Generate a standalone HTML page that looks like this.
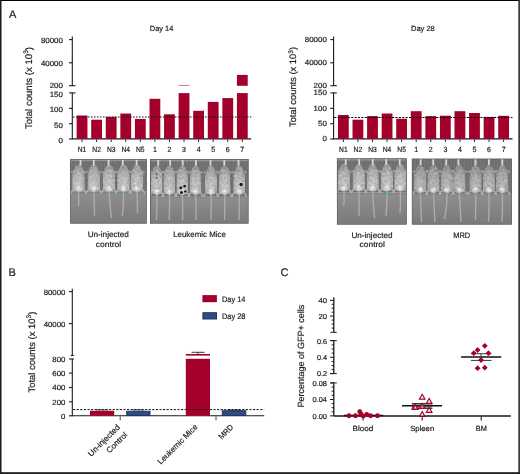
<!DOCTYPE html><html><head><meta charset="utf-8"><style>html,body{margin:0;padding:0;background:#fff;}svg{display:block;font-family:"Liberation Sans",sans-serif;will-change:transform;text-rendering:geometricPrecision;}text{fill:#1e1e1e;stroke:#1e1e1e;stroke-width:0.2px;}</style></head><body>
<svg width="520" height="474" viewBox="0 0 520 474">
<defs>
<linearGradient id="gbg" x1="0" y1="0" x2="0" y2="1"><stop offset="0" stop-color="#6e6e6e"/><stop offset="0.50" stop-color="#6a6a6a"/><stop offset="0.56" stop-color="#929292"/><stop offset="1" stop-color="#858585"/></linearGradient>
<pattern id="stripes" width="3.3" height="10" patternUnits="userSpaceOnUse"><rect width="3.3" height="10" fill="#7b7b7b"/><rect x="0" width="1.2" height="10" fill="#6e6e6e"/></pattern>
<linearGradient id="glow" x1="0" y1="0" x2="0" y2="1"><stop offset="0" stop-color="#808080"/><stop offset="0.1" stop-color="#8d8d8d"/><stop offset="1" stop-color="#7a7a7a"/></linearGradient>
<linearGradient id="gup" x1="0" y1="0" x2="0" y2="1"><stop offset="0" stop-color="#666"/><stop offset="1" stop-color="#707070"/></linearGradient>
<radialGradient id="ghind"><stop offset="0" stop-color="#ececec" stop-opacity="1"/><stop offset="0.5" stop-color="#e0e0e0" stop-opacity="0.8"/><stop offset="1" stop-color="#d0d0d0" stop-opacity="0"/></radialGradient>
<radialGradient id="gmouse2" cx="0.5" cy="0.75" r="0.7"><stop offset="0" stop-color="#b8b8b8"/><stop offset="0.6" stop-color="#a6a6a6"/><stop offset="1" stop-color="#8e8e8e"/></radialGradient>
<radialGradient id="gmouse" cx="0.5" cy="0.75" r="0.7"><stop offset="0" stop-color="#c6c6c6"/><stop offset="0.6" stop-color="#b2b2b2"/><stop offset="1" stop-color="#989898"/></radialGradient>
<filter id="speck1" x="-0.05" y="-0.05" width="1.1" height="1.1" color-interpolation-filters="sRGB"><feTurbulence type="fractalNoise" baseFrequency="0.4" numOctaves="2" seed="5" result="n"/><feColorMatrix in="n" type="matrix" values="0 0 0 0 0  1 0 0 0 0  0 0 0 0 0  0 0 0 0 1" result="g"/><feColorMatrix in="g" type="matrix" values="0 1 0 0 0  0 1 0 0 0  0 1 0 0 0  0 0 0 0 1" result="gg"/><feComposite in="SourceGraphic" in2="gg" operator="arithmetic" k1="0" k2="1" k3="0.24" k4="-0.12" result="mix"/><feComposite in="mix" in2="SourceAlpha" operator="in" result="m2"/><feGaussianBlur in="m2" stdDeviation="0.45"/></filter>
</defs>
<rect x="0.00" y="0.00" width="520.00" height="474.00" fill="#fff" />
<text x="9.00" y="17.80" font-size="11" text-anchor="start" >A</text>
<text x="8.60" y="276.20" font-size="11" text-anchor="start" >B</text>
<text x="280.60" y="276.40" font-size="11" text-anchor="start" >C</text>
<text x="0.00" y="0.00" font-size="9.6" text-anchor="middle" transform="translate(31.6,88) rotate(-90)">Total counts (x 10<tspan dy="-3.4" font-size="6.6">3</tspan><tspan dy="3.4">)</tspan></text>
<text x="0.00" y="0.00" font-size="9.35" text-anchor="middle" transform="translate(296.0,87.0) rotate(-90)">Total counts (x 10<tspan dy="-3.4" font-size="6.6">3</tspan><tspan dy="3.4">)</tspan></text>
<line x1="72.30" y1="36.60" x2="72.30" y2="85.70" stroke="#1a1a1a" stroke-width="1.1" />
<line x1="72.30" y1="92.70" x2="72.30" y2="139.30" stroke="#1a1a1a" stroke-width="1.1" />
<line x1="69.10" y1="85.70" x2="75.50" y2="85.70" stroke="#1a1a1a" stroke-width="1.1" />
<line x1="69.10" y1="92.90" x2="75.50" y2="92.90" stroke="#1a1a1a" stroke-width="1.1" />
<line x1="69.00" y1="39.60" x2="72.30" y2="39.60" stroke="#1a1a1a" stroke-width="1.1" />
<line x1="69.00" y1="62.80" x2="72.30" y2="62.80" stroke="#1a1a1a" stroke-width="1.1" />
<line x1="69.00" y1="108.40" x2="72.30" y2="108.40" stroke="#1a1a1a" stroke-width="1.1" />
<line x1="69.00" y1="123.70" x2="72.30" y2="123.70" stroke="#1a1a1a" stroke-width="1.1" />
<line x1="69.00" y1="139.00" x2="72.30" y2="139.00" stroke="#1a1a1a" stroke-width="1.1" />
<text x="62.90" y="43.40" font-size="7.5" text-anchor="end" textLength="22.00" lengthAdjust="spacingAndGlyphs" >80000</text>
<text x="62.90" y="66.20" font-size="7.5" text-anchor="end" textLength="22.00" lengthAdjust="spacingAndGlyphs" >40000</text>
<text x="62.90" y="87.50" font-size="7.5" text-anchor="end" textLength="13.20" lengthAdjust="spacingAndGlyphs" >200</text>
<text x="62.90" y="96.60" font-size="7.5" text-anchor="end" textLength="13.20" lengthAdjust="spacingAndGlyphs" >150</text>
<text x="62.90" y="112.00" font-size="7.5" text-anchor="end" textLength="13.20" lengthAdjust="spacingAndGlyphs" >100</text>
<text x="62.90" y="127.60" font-size="7.5" text-anchor="end" textLength="8.80" lengthAdjust="spacingAndGlyphs" >50</text>
<text x="62.90" y="142.60" font-size="7.5" text-anchor="end" textLength="4.40" lengthAdjust="spacingAndGlyphs" >0</text>
<line x1="72.30" y1="138.90" x2="251.20" y2="138.90" stroke="#1a1a1a" stroke-width="1.1" />
<rect x="76.65" y="115.50" width="10.80" height="23.40" fill="#a3002b" />
<line x1="82.05" y1="139.30" x2="82.05" y2="142.00" stroke="#2a2a2a" stroke-width="1.0" />
<rect x="91.22" y="119.70" width="10.80" height="19.20" fill="#a3002b" />
<line x1="96.62" y1="139.30" x2="96.62" y2="142.00" stroke="#2a2a2a" stroke-width="1.0" />
<rect x="105.79" y="116.90" width="10.80" height="22.00" fill="#a3002b" />
<line x1="111.19" y1="139.30" x2="111.19" y2="142.00" stroke="#2a2a2a" stroke-width="1.0" />
<rect x="120.36" y="113.50" width="10.80" height="25.40" fill="#a3002b" />
<line x1="125.76" y1="139.30" x2="125.76" y2="142.00" stroke="#2a2a2a" stroke-width="1.0" />
<rect x="134.93" y="118.90" width="10.80" height="20.00" fill="#a3002b" />
<line x1="140.33" y1="139.30" x2="140.33" y2="142.00" stroke="#2a2a2a" stroke-width="1.0" />
<rect x="149.50" y="98.80" width="10.80" height="40.10" fill="#a3002b" />
<line x1="154.90" y1="139.30" x2="154.90" y2="142.00" stroke="#2a2a2a" stroke-width="1.0" />
<rect x="164.07" y="114.30" width="10.80" height="24.60" fill="#a3002b" />
<line x1="169.47" y1="139.30" x2="169.47" y2="142.00" stroke="#2a2a2a" stroke-width="1.0" />
<rect x="178.64" y="93.10" width="10.80" height="45.80" fill="#a3002b" />
<line x1="184.04" y1="139.30" x2="184.04" y2="142.00" stroke="#2a2a2a" stroke-width="1.0" />
<rect x="193.21" y="110.80" width="10.80" height="28.10" fill="#a3002b" />
<line x1="198.61" y1="139.30" x2="198.61" y2="142.00" stroke="#2a2a2a" stroke-width="1.0" />
<rect x="207.78" y="101.90" width="10.80" height="37.00" fill="#a3002b" />
<line x1="213.18" y1="139.30" x2="213.18" y2="142.00" stroke="#2a2a2a" stroke-width="1.0" />
<rect x="222.35" y="98.10" width="10.80" height="40.80" fill="#a3002b" />
<line x1="227.75" y1="139.30" x2="227.75" y2="142.00" stroke="#2a2a2a" stroke-width="1.0" />
<rect x="236.92" y="93.10" width="10.80" height="45.80" fill="#a3002b" />
<line x1="242.32" y1="139.30" x2="242.32" y2="142.00" stroke="#2a2a2a" stroke-width="1.0" />
<rect x="178.64" y="84.90" width="10.80" height="1.00" fill="#a3002b" opacity="0.55"/>
<rect x="236.92" y="74.90" width="10.80" height="10.90" fill="#a3002b" opacity="1.0"/>
<line x1="72.90" y1="117.0" x2="251.20" y2="117.0" stroke="#111" stroke-width="1.1" stroke-dasharray="1.6 1.4"/>
<text x="82.05" y="152.20" font-size="7.5" text-anchor="middle" textLength="8.60" lengthAdjust="spacingAndGlyphs" >N1</text>
<text x="96.62" y="152.20" font-size="7.5" text-anchor="middle" textLength="8.60" lengthAdjust="spacingAndGlyphs" >N2</text>
<text x="111.19" y="152.20" font-size="7.5" text-anchor="middle" textLength="8.60" lengthAdjust="spacingAndGlyphs" >N3</text>
<text x="125.76" y="152.20" font-size="7.5" text-anchor="middle" textLength="8.60" lengthAdjust="spacingAndGlyphs" >N4</text>
<text x="140.33" y="152.20" font-size="7.5" text-anchor="middle" textLength="8.60" lengthAdjust="spacingAndGlyphs" >N5</text>
<text x="154.90" y="152.20" font-size="7.5" text-anchor="middle" textLength="3.90" lengthAdjust="spacingAndGlyphs" >1</text>
<text x="169.47" y="152.20" font-size="7.5" text-anchor="middle" textLength="3.90" lengthAdjust="spacingAndGlyphs" >2</text>
<text x="184.04" y="152.20" font-size="7.5" text-anchor="middle" textLength="3.90" lengthAdjust="spacingAndGlyphs" >3</text>
<text x="198.61" y="152.20" font-size="7.5" text-anchor="middle" textLength="3.90" lengthAdjust="spacingAndGlyphs" >4</text>
<text x="213.18" y="152.20" font-size="7.5" text-anchor="middle" textLength="3.90" lengthAdjust="spacingAndGlyphs" >5</text>
<text x="227.75" y="152.20" font-size="7.5" text-anchor="middle" textLength="3.90" lengthAdjust="spacingAndGlyphs" >6</text>
<text x="242.32" y="152.20" font-size="7.5" text-anchor="middle" textLength="3.90" lengthAdjust="spacingAndGlyphs" >7</text>
<text x="161.60" y="31.20" font-size="7.5" text-anchor="middle" textLength="23.60" lengthAdjust="spacingAndGlyphs" >Day 14</text>
<line x1="333.60" y1="36.60" x2="333.60" y2="85.70" stroke="#1a1a1a" stroke-width="1.1" />
<line x1="333.60" y1="92.70" x2="333.60" y2="139.30" stroke="#1a1a1a" stroke-width="1.1" />
<line x1="330.40" y1="85.70" x2="336.80" y2="85.70" stroke="#1a1a1a" stroke-width="1.1" />
<line x1="330.40" y1="92.90" x2="336.80" y2="92.90" stroke="#1a1a1a" stroke-width="1.1" />
<line x1="330.30" y1="39.60" x2="333.60" y2="39.60" stroke="#1a1a1a" stroke-width="1.1" />
<line x1="330.30" y1="62.80" x2="333.60" y2="62.80" stroke="#1a1a1a" stroke-width="1.1" />
<line x1="330.30" y1="108.40" x2="333.60" y2="108.40" stroke="#1a1a1a" stroke-width="1.1" />
<line x1="330.30" y1="123.70" x2="333.60" y2="123.70" stroke="#1a1a1a" stroke-width="1.1" />
<line x1="330.30" y1="139.00" x2="333.60" y2="139.00" stroke="#1a1a1a" stroke-width="1.1" />
<text x="326.80" y="41.50" font-size="7.5" text-anchor="end" textLength="22.00" lengthAdjust="spacingAndGlyphs" >80000</text>
<text x="326.80" y="64.70" font-size="7.5" text-anchor="end" textLength="22.00" lengthAdjust="spacingAndGlyphs" >40000</text>
<text x="326.80" y="87.60" font-size="7.5" text-anchor="end" textLength="13.20" lengthAdjust="spacingAndGlyphs" >200</text>
<text x="326.80" y="95.30" font-size="7.5" text-anchor="end" textLength="13.20" lengthAdjust="spacingAndGlyphs" >150</text>
<text x="326.80" y="110.70" font-size="7.5" text-anchor="end" textLength="13.20" lengthAdjust="spacingAndGlyphs" >100</text>
<text x="326.80" y="126.40" font-size="7.5" text-anchor="end" textLength="8.80" lengthAdjust="spacingAndGlyphs" >50</text>
<text x="326.80" y="141.40" font-size="7.5" text-anchor="end" textLength="4.40" lengthAdjust="spacingAndGlyphs" >0</text>
<line x1="333.60" y1="138.90" x2="512.50" y2="138.90" stroke="#1a1a1a" stroke-width="1.1" />
<rect x="337.95" y="115.00" width="10.80" height="23.90" fill="#a3002b" />
<line x1="343.35" y1="139.30" x2="343.35" y2="142.00" stroke="#2a2a2a" stroke-width="1.0" />
<rect x="352.52" y="119.70" width="10.80" height="19.20" fill="#a3002b" />
<line x1="357.92" y1="139.30" x2="357.92" y2="142.00" stroke="#2a2a2a" stroke-width="1.0" />
<rect x="367.09" y="116.10" width="10.80" height="22.80" fill="#a3002b" />
<line x1="372.49" y1="139.30" x2="372.49" y2="142.00" stroke="#2a2a2a" stroke-width="1.0" />
<rect x="381.66" y="113.50" width="10.80" height="25.40" fill="#a3002b" />
<line x1="387.06" y1="139.30" x2="387.06" y2="142.00" stroke="#2a2a2a" stroke-width="1.0" />
<rect x="396.23" y="118.70" width="10.80" height="20.20" fill="#a3002b" />
<line x1="401.63" y1="139.30" x2="401.63" y2="142.00" stroke="#2a2a2a" stroke-width="1.0" />
<rect x="410.80" y="111.20" width="10.80" height="27.70" fill="#a3002b" />
<line x1="416.20" y1="139.30" x2="416.20" y2="142.00" stroke="#2a2a2a" stroke-width="1.0" />
<rect x="425.37" y="116.10" width="10.80" height="22.80" fill="#a3002b" />
<line x1="430.77" y1="139.30" x2="430.77" y2="142.00" stroke="#2a2a2a" stroke-width="1.0" />
<rect x="439.94" y="115.70" width="10.80" height="23.20" fill="#a3002b" />
<line x1="445.34" y1="139.30" x2="445.34" y2="142.00" stroke="#2a2a2a" stroke-width="1.0" />
<rect x="454.51" y="111.20" width="10.80" height="27.70" fill="#a3002b" />
<line x1="459.91" y1="139.30" x2="459.91" y2="142.00" stroke="#2a2a2a" stroke-width="1.0" />
<rect x="469.08" y="113.00" width="10.80" height="25.90" fill="#a3002b" />
<line x1="474.48" y1="139.30" x2="474.48" y2="142.00" stroke="#2a2a2a" stroke-width="1.0" />
<rect x="483.65" y="116.90" width="10.80" height="22.00" fill="#a3002b" />
<line x1="489.05" y1="139.30" x2="489.05" y2="142.00" stroke="#2a2a2a" stroke-width="1.0" />
<rect x="498.22" y="115.80" width="10.80" height="23.10" fill="#a3002b" />
<line x1="503.62" y1="139.30" x2="503.62" y2="142.00" stroke="#2a2a2a" stroke-width="1.0" />
<line x1="334.20" y1="117.5" x2="512.50" y2="117.5" stroke="#000" stroke-width="1.0" stroke-dasharray="2.1 1.3"/>
<text x="343.35" y="152.00" font-size="7.5" text-anchor="middle" textLength="8.60" lengthAdjust="spacingAndGlyphs" >N1</text>
<text x="357.92" y="152.00" font-size="7.5" text-anchor="middle" textLength="8.60" lengthAdjust="spacingAndGlyphs" >N2</text>
<text x="372.49" y="152.00" font-size="7.5" text-anchor="middle" textLength="8.60" lengthAdjust="spacingAndGlyphs" >N3</text>
<text x="387.06" y="152.00" font-size="7.5" text-anchor="middle" textLength="8.60" lengthAdjust="spacingAndGlyphs" >N4</text>
<text x="401.63" y="152.00" font-size="7.5" text-anchor="middle" textLength="8.60" lengthAdjust="spacingAndGlyphs" >N5</text>
<text x="416.20" y="152.00" font-size="7.5" text-anchor="middle" textLength="3.90" lengthAdjust="spacingAndGlyphs" >1</text>
<text x="430.77" y="152.00" font-size="7.5" text-anchor="middle" textLength="3.90" lengthAdjust="spacingAndGlyphs" >2</text>
<text x="445.34" y="152.00" font-size="7.5" text-anchor="middle" textLength="3.90" lengthAdjust="spacingAndGlyphs" >3</text>
<text x="459.91" y="152.00" font-size="7.5" text-anchor="middle" textLength="3.90" lengthAdjust="spacingAndGlyphs" >4</text>
<text x="474.48" y="152.00" font-size="7.5" text-anchor="middle" textLength="3.90" lengthAdjust="spacingAndGlyphs" >5</text>
<text x="489.05" y="152.00" font-size="7.5" text-anchor="middle" textLength="3.90" lengthAdjust="spacingAndGlyphs" >6</text>
<text x="503.62" y="152.00" font-size="7.5" text-anchor="middle" textLength="3.90" lengthAdjust="spacingAndGlyphs" >7</text>
<text x="422.90" y="31.20" font-size="7.5" text-anchor="middle" textLength="23.60" lengthAdjust="spacingAndGlyphs" >Day 28</text>
<clipPath id="c70"><rect x="70.1" y="158.9" width="76.7" height="64.8"/></clipPath>
<g clip-path="url(#c70)">
<rect x="70.1" y="158.9" width="76.7" height="32.5" fill="url(#stripes)"/>
<rect x="70.1" y="158.9" width="76.7" height="32.5" fill="url(#gup)" opacity="0.35"/>
<rect x="70.1" y="191.4" width="76.7" height="32.3" fill="url(#glow)"/>
<rect x="70.1" y="158.9" width="76.7" height="2.2" fill="#959595"/>
<path d="M78.5,190.9 Q79.0,203.9 78.5,206.0" stroke="#acacac" stroke-width="1.4" fill="none"/>
<path d="M74.1,187.9 L70.6,193.4 M82.9,187.9 L86.4,193.4" stroke="#b4b4b4" stroke-width="1.4"/>
<path d="M73.1,170.9 L71.1,172.9 M83.9,170.9 L85.9,172.9" stroke="#b0b0b0" stroke-width="1.2"/>
<path d="M93.8,190.9 Q94.3,203.9 94.5,216.0" stroke="#acacac" stroke-width="1.4" fill="none"/>
<path d="M89.4,187.9 L85.9,193.4 M98.2,187.9 L101.7,193.4" stroke="#b4b4b4" stroke-width="1.4"/>
<path d="M88.4,170.9 L86.4,172.9 M99.2,170.9 L101.2,172.9" stroke="#b0b0b0" stroke-width="1.2"/>
<path d="M109.0,190.9 Q109.5,203.9 111.5,218.0" stroke="#acacac" stroke-width="1.4" fill="none"/>
<path d="M104.6,187.9 L101.1,193.4 M113.4,187.9 L116.9,193.4" stroke="#b4b4b4" stroke-width="1.4"/>
<path d="M103.6,170.9 L101.6,172.9 M114.4,170.9 L116.4,172.9" stroke="#b0b0b0" stroke-width="1.2"/>
<path d="M123.5,190.9 Q124.0,203.9 122.3,216.0" stroke="#acacac" stroke-width="1.4" fill="none"/>
<path d="M119.1,187.9 L115.6,193.4 M127.9,187.9 L131.4,193.4" stroke="#b4b4b4" stroke-width="1.4"/>
<path d="M118.1,170.9 L116.1,172.9 M128.9,170.9 L130.9,172.9" stroke="#b0b0b0" stroke-width="1.2"/>
<path d="M137.0,190.9 Q137.5,203.9 137.5,213.0" stroke="#acacac" stroke-width="1.4" fill="none"/>
<path d="M132.6,187.9 L129.1,193.4 M141.4,187.9 L144.9,193.4" stroke="#b4b4b4" stroke-width="1.4"/>
<path d="M131.6,170.9 L129.6,172.9 M142.4,170.9 L144.4,172.9" stroke="#b0b0b0" stroke-width="1.2"/>
<g filter="url(#speck1)">
<path d="M78.50,164.30 C80.90,164.30 82.10,166.10 83.49,169.80 C84.90,171.80 84.90,173.30 84.90,176.30 L84.90,187.90 C84.90,190.90 80.50,191.90 78.50,191.90 C76.50,191.90 72.10,190.90 72.10,187.90 L72.10,176.30 C72.10,173.30 72.10,171.80 73.51,169.80 C74.90,166.10 76.10,164.30 78.50,164.30 Z" fill="url(#gmouse)"/>
<ellipse cx="78.5" cy="188.4" rx="3.6" ry="3.4" fill="url(#ghind)"/>
<path d="M93.80,164.30 C96.20,164.30 97.40,166.10 98.79,169.80 C100.20,171.80 100.20,173.30 100.20,176.30 L100.20,187.90 C100.20,190.90 95.80,191.90 93.80,191.90 C91.80,191.90 87.40,190.90 87.40,187.90 L87.40,176.30 C87.40,173.30 87.40,171.80 88.81,169.80 C90.20,166.10 91.40,164.30 93.80,164.30 Z" fill="url(#gmouse)"/>
<ellipse cx="93.8" cy="188.4" rx="3.6" ry="3.4" fill="url(#ghind)"/>
<path d="M109.00,164.30 C111.40,164.30 112.60,166.10 113.99,169.80 C115.40,171.80 115.40,173.30 115.40,176.30 L115.40,187.90 C115.40,190.90 111.00,191.90 109.00,191.90 C107.00,191.90 102.60,190.90 102.60,187.90 L102.60,176.30 C102.60,173.30 102.60,171.80 104.01,169.80 C105.40,166.10 106.60,164.30 109.00,164.30 Z" fill="url(#gmouse)"/>
<ellipse cx="109.0" cy="188.4" rx="3.6" ry="3.4" fill="url(#ghind)"/>
<path d="M123.50,164.30 C125.90,164.30 127.10,166.10 128.49,169.80 C129.90,171.80 129.90,173.30 129.90,176.30 L129.90,187.90 C129.90,190.90 125.50,191.90 123.50,191.90 C121.50,191.90 117.10,190.90 117.10,187.90 L117.10,176.30 C117.10,173.30 117.10,171.80 118.51,169.80 C119.90,166.10 121.10,164.30 123.50,164.30 Z" fill="url(#gmouse)"/>
<ellipse cx="123.5" cy="188.4" rx="3.6" ry="3.4" fill="url(#ghind)"/>
<path d="M137.00,164.30 C139.40,164.30 140.60,166.10 141.99,169.80 C143.40,171.80 143.40,173.30 143.40,176.30 L143.40,187.90 C143.40,190.90 139.00,191.90 137.00,191.90 C135.00,191.90 130.60,190.90 130.60,187.90 L130.60,176.30 C130.60,173.30 130.60,171.80 132.01,169.80 C133.40,166.10 134.60,164.30 137.00,164.30 Z" fill="url(#gmouse)"/>
<ellipse cx="137.0" cy="188.4" rx="3.6" ry="3.4" fill="url(#ghind)"/>
</g>
<rect x="79.6" y="159.4" width="1.8" height="6.2" fill="#d8d8d8"/>
<rect x="92.9" y="159.4" width="1.8" height="6.2" fill="#d8d8d8"/>
<rect x="107.6" y="159.4" width="1.8" height="6.2" fill="#d8d8d8"/>
<rect x="121.9" y="159.4" width="1.8" height="6.2" fill="#d8d8d8"/>
<rect x="135.7" y="159.4" width="1.8" height="6.2" fill="#d8d8d8"/>
<rect x="70.5" y="159.3" width="75.9" height="64.0" fill="none" stroke="#5e5e5e" stroke-width="0.8"/>
<circle cx="121.5" cy="192.8" r="1.3" fill="#2b9fc4"/>
</g>
<clipPath id="c150"><rect x="150.0" y="159.1" width="98.7" height="64.6"/></clipPath>
<g clip-path="url(#c150)">
<rect x="150.0" y="159.1" width="98.7" height="37.0" fill="url(#stripes)"/>
<rect x="150.0" y="159.1" width="98.7" height="37.0" fill="url(#gup)" opacity="0.35"/>
<rect x="150.0" y="196.1" width="98.7" height="27.599999999999994" fill="url(#glow)"/>
<rect x="150.0" y="159.1" width="98.7" height="2.2" fill="#959595"/>
<path d="M156.8,194.1 Q157.3,207.1 156.5,220.0" stroke="#acacac" stroke-width="1.4" fill="none"/>
<path d="M152.8,191.1 L149.3,196.6 M160.8,191.1 L164.3,196.6" stroke="#b4b4b4" stroke-width="1.4"/>
<path d="M151.8,171.1 L149.8,173.1 M161.8,171.1 L163.8,173.1" stroke="#b0b0b0" stroke-width="1.2"/>
<path d="M169.4,194.1 Q169.9,207.1 169.2,220.0" stroke="#acacac" stroke-width="1.4" fill="none"/>
<path d="M165.4,191.1 L161.9,196.6 M173.4,191.1 L176.9,196.6" stroke="#b4b4b4" stroke-width="1.4"/>
<path d="M164.4,171.1 L162.4,173.1 M174.4,171.1 L176.4,173.1" stroke="#b0b0b0" stroke-width="1.2"/>
<path d="M182.3,194.1 Q182.8,207.1 182.7,220.0" stroke="#acacac" stroke-width="1.4" fill="none"/>
<path d="M178.3,191.1 L174.8,196.6 M186.3,191.1 L189.8,196.6" stroke="#b4b4b4" stroke-width="1.4"/>
<path d="M177.3,171.1 L175.3,173.1 M187.3,171.1 L189.3,173.1" stroke="#b0b0b0" stroke-width="1.2"/>
<path d="M195.6,194.1 Q196.1,207.1 196.0,220.0" stroke="#acacac" stroke-width="1.4" fill="none"/>
<path d="M191.6,191.1 L188.1,196.6 M199.6,191.1 L203.1,196.6" stroke="#b4b4b4" stroke-width="1.4"/>
<path d="M190.6,171.1 L188.6,173.1 M200.6,171.1 L202.6,173.1" stroke="#b0b0b0" stroke-width="1.2"/>
<path d="M211.0,194.1 Q211.5,207.1 211.0,220.0" stroke="#acacac" stroke-width="1.4" fill="none"/>
<path d="M207.0,191.1 L203.5,196.6 M215.0,191.1 L218.5,196.6" stroke="#b4b4b4" stroke-width="1.4"/>
<path d="M206.0,171.1 L204.0,173.1 M216.0,171.1 L218.0,173.1" stroke="#b0b0b0" stroke-width="1.2"/>
<path d="M224.6,194.1 Q225.1,207.1 224.5,220.0" stroke="#acacac" stroke-width="1.4" fill="none"/>
<path d="M220.6,191.1 L217.1,196.6 M228.6,191.1 L232.1,196.6" stroke="#b4b4b4" stroke-width="1.4"/>
<path d="M219.6,171.1 L217.6,173.1 M229.6,171.1 L231.6,173.1" stroke="#b0b0b0" stroke-width="1.2"/>
<path d="M239.2,194.1 Q239.7,207.1 239.0,220.0" stroke="#acacac" stroke-width="1.4" fill="none"/>
<path d="M235.2,191.1 L231.7,196.6 M243.2,191.1 L246.7,196.6" stroke="#b4b4b4" stroke-width="1.4"/>
<path d="M234.2,171.1 L232.2,173.1 M244.2,171.1 L246.2,173.1" stroke="#b0b0b0" stroke-width="1.2"/>
<g filter="url(#speck1)">
<path d="M156.80,165.60 C159.20,165.60 160.40,167.40 161.48,171.10 C162.80,173.10 162.80,174.60 162.80,177.60 L162.80,191.10 C162.80,194.10 158.80,195.10 156.80,195.10 C154.80,195.10 150.80,194.10 150.80,191.10 L150.80,177.60 C150.80,174.60 150.80,173.10 152.12,171.10 C153.20,167.40 154.40,165.60 156.80,165.60 Z" fill="url(#gmouse)"/>
<ellipse cx="156.8" cy="191.6" rx="3.6" ry="3.4" fill="url(#ghind)"/>
<path d="M169.40,165.60 C171.80,165.60 173.00,167.40 174.08,171.10 C175.40,173.10 175.40,174.60 175.40,177.60 L175.40,191.10 C175.40,194.10 171.40,195.10 169.40,195.10 C167.40,195.10 163.40,194.10 163.40,191.10 L163.40,177.60 C163.40,174.60 163.40,173.10 164.72,171.10 C165.80,167.40 167.00,165.60 169.40,165.60 Z" fill="url(#gmouse)"/>
<ellipse cx="169.4" cy="191.6" rx="3.6" ry="3.4" fill="url(#ghind)"/>
<path d="M182.30,165.60 C184.70,165.60 185.90,167.40 186.98,171.10 C188.30,173.10 188.30,174.60 188.30,177.60 L188.30,191.10 C188.30,194.10 184.30,195.10 182.30,195.10 C180.30,195.10 176.30,194.10 176.30,191.10 L176.30,177.60 C176.30,174.60 176.30,173.10 177.62,171.10 C178.70,167.40 179.90,165.60 182.30,165.60 Z" fill="url(#gmouse)"/>
<ellipse cx="182.3" cy="191.6" rx="3.6" ry="3.4" fill="url(#ghind)"/>
<path d="M195.60,165.60 C198.00,165.60 199.20,167.40 200.28,171.10 C201.60,173.10 201.60,174.60 201.60,177.60 L201.60,191.10 C201.60,194.10 197.60,195.10 195.60,195.10 C193.60,195.10 189.60,194.10 189.60,191.10 L189.60,177.60 C189.60,174.60 189.60,173.10 190.92,171.10 C192.00,167.40 193.20,165.60 195.60,165.60 Z" fill="url(#gmouse)"/>
<ellipse cx="195.6" cy="191.6" rx="3.6" ry="3.4" fill="url(#ghind)"/>
<path d="M211.00,165.60 C213.40,165.60 214.60,167.40 215.68,171.10 C217.00,173.10 217.00,174.60 217.00,177.60 L217.00,191.10 C217.00,194.10 213.00,195.10 211.00,195.10 C209.00,195.10 205.00,194.10 205.00,191.10 L205.00,177.60 C205.00,174.60 205.00,173.10 206.32,171.10 C207.40,167.40 208.60,165.60 211.00,165.60 Z" fill="url(#gmouse)"/>
<ellipse cx="211.0" cy="191.6" rx="3.6" ry="3.4" fill="url(#ghind)"/>
<path d="M224.60,165.60 C227.00,165.60 228.20,167.40 229.28,171.10 C230.60,173.10 230.60,174.60 230.60,177.60 L230.60,191.10 C230.60,194.10 226.60,195.10 224.60,195.10 C222.60,195.10 218.60,194.10 218.60,191.10 L218.60,177.60 C218.60,174.60 218.60,173.10 219.92,171.10 C221.00,167.40 222.20,165.60 224.60,165.60 Z" fill="url(#gmouse)"/>
<ellipse cx="224.6" cy="191.6" rx="3.6" ry="3.4" fill="url(#ghind)"/>
<path d="M239.20,165.60 C241.60,165.60 242.80,167.40 243.88,171.10 C245.20,173.10 245.20,174.60 245.20,177.60 L245.20,191.10 C245.20,194.10 241.20,195.10 239.20,195.10 C237.20,195.10 233.20,194.10 233.20,191.10 L233.20,177.60 C233.20,174.60 233.20,173.10 234.52,171.10 C235.60,167.40 236.80,165.60 239.20,165.60 Z" fill="url(#gmouse)"/>
<ellipse cx="239.2" cy="191.6" rx="3.6" ry="3.4" fill="url(#ghind)"/>
</g>
<rect x="157.3" y="159.6" width="1.8" height="6.2" fill="#d8d8d8"/>
<rect x="169.3" y="159.6" width="1.8" height="6.2" fill="#d8d8d8"/>
<rect x="181.8" y="159.6" width="1.8" height="6.2" fill="#d8d8d8"/>
<rect x="195.0" y="159.6" width="1.8" height="6.2" fill="#d8d8d8"/>
<rect x="209.6" y="159.6" width="1.8" height="6.2" fill="#d8d8d8"/>
<rect x="223.4" y="159.6" width="1.8" height="6.2" fill="#d8d8d8"/>
<rect x="237.6" y="159.6" width="1.8" height="6.2" fill="#d8d8d8"/>
<rect x="150.4" y="159.5" width="97.9" height="63.8" fill="none" stroke="#5e5e5e" stroke-width="0.8"/>
<circle cx="180.8" cy="187.7" r="2.5" fill="#d0d0d0" opacity="0.8"/>
<circle cx="184.6" cy="186.2" r="2.4" fill="#d0d0d0" opacity="0.8"/>
<circle cx="181.5" cy="192.4" r="2.5" fill="#d0d0d0" opacity="0.8"/>
<circle cx="185.4" cy="191.5" r="2.3" fill="#d0d0d0" opacity="0.8"/>
<circle cx="241.1" cy="184.6" r="2.8" fill="#d0d0d0" opacity="0.8"/>
<circle cx="180.8" cy="187.7" r="1.5" fill="#1e1e1e"/>
<circle cx="184.6" cy="186.2" r="1.4" fill="#1e1e1e"/>
<circle cx="181.5" cy="192.4" r="1.5" fill="#1e1e1e"/>
<circle cx="185.4" cy="191.5" r="1.3" fill="#1e1e1e"/>
<circle cx="241.1" cy="184.6" r="1.8" fill="#1e1e1e"/>
<circle cx="156.8" cy="174.3" r="0.7" fill="#1e1e1e"/>
<circle cx="156.8" cy="177.8" r="0.7" fill="#1e1e1e"/>
</g>
<clipPath id="c336"><rect x="336.8" y="158.3" width="70.0" height="66.4"/></clipPath>
<g clip-path="url(#c336)">
<rect x="336.8" y="158.3" width="70.0" height="34.0" fill="url(#stripes)"/>
<rect x="336.8" y="158.3" width="70.0" height="34.0" fill="url(#gup)" opacity="0.35"/>
<rect x="336.8" y="192.3" width="70.0" height="32.400000000000006" fill="url(#glow)"/>
<rect x="336.8" y="158.3" width="70.0" height="2.2" fill="#959595"/>
<path d="M343.9,190.5 Q344.4,203.5 343.5,206.0" stroke="#acacac" stroke-width="1.4" fill="none"/>
<path d="M339.7,187.5 L336.2,193.0 M348.1,187.5 L351.6,193.0" stroke="#b4b4b4" stroke-width="1.4"/>
<path d="M338.7,170.3 L336.7,172.3 M349.1,170.3 L351.1,172.3" stroke="#b0b0b0" stroke-width="1.2"/>
<path d="M358.8,190.5 Q359.3,203.5 359.0,216.0" stroke="#acacac" stroke-width="1.4" fill="none"/>
<path d="M354.6,187.5 L351.1,193.0 M363.0,187.5 L366.5,193.0" stroke="#b4b4b4" stroke-width="1.4"/>
<path d="M353.6,170.3 L351.6,172.3 M364.0,170.3 L366.0,172.3" stroke="#b0b0b0" stroke-width="1.2"/>
<path d="M372.7,190.5 Q373.2,203.5 374.5,218.0" stroke="#acacac" stroke-width="1.4" fill="none"/>
<path d="M368.5,187.5 L365.0,193.0 M376.9,187.5 L380.4,193.0" stroke="#b4b4b4" stroke-width="1.4"/>
<path d="M367.5,170.3 L365.5,172.3 M377.9,170.3 L379.9,172.3" stroke="#b0b0b0" stroke-width="1.2"/>
<path d="M386.9,190.5 Q387.4,203.5 386.0,216.0" stroke="#acacac" stroke-width="1.4" fill="none"/>
<path d="M382.7,187.5 L379.2,193.0 M391.1,187.5 L394.6,193.0" stroke="#b4b4b4" stroke-width="1.4"/>
<path d="M381.7,170.3 L379.7,172.3 M392.1,170.3 L394.1,172.3" stroke="#b0b0b0" stroke-width="1.2"/>
<path d="M400.3,190.5 Q400.8,203.5 400.0,213.0" stroke="#acacac" stroke-width="1.4" fill="none"/>
<path d="M396.1,187.5 L392.6,193.0 M404.5,187.5 L408.0,193.0" stroke="#b4b4b4" stroke-width="1.4"/>
<path d="M395.1,170.3 L393.1,172.3 M405.5,170.3 L407.5,172.3" stroke="#b0b0b0" stroke-width="1.2"/>
<g filter="url(#speck1)">
<path d="M343.90,163.70 C346.30,163.70 347.50,165.50 348.74,169.20 C350.10,171.20 350.10,172.70 350.10,175.70 L350.10,187.50 C350.10,190.50 345.90,191.50 343.90,191.50 C341.90,191.50 337.70,190.50 337.70,187.50 L337.70,175.70 C337.70,172.70 337.70,171.20 339.06,169.20 C340.30,165.50 341.50,163.70 343.90,163.70 Z" fill="url(#gmouse)"/>
<ellipse cx="343.9" cy="188.0" rx="3.6" ry="3.4" fill="url(#ghind)"/>
<path d="M358.80,163.70 C361.20,163.70 362.40,165.50 363.64,169.20 C365.00,171.20 365.00,172.70 365.00,175.70 L365.00,187.50 C365.00,190.50 360.80,191.50 358.80,191.50 C356.80,191.50 352.60,190.50 352.60,187.50 L352.60,175.70 C352.60,172.70 352.60,171.20 353.96,169.20 C355.20,165.50 356.40,163.70 358.80,163.70 Z" fill="url(#gmouse)"/>
<ellipse cx="358.8" cy="188.0" rx="3.6" ry="3.4" fill="url(#ghind)"/>
<path d="M372.70,163.70 C375.10,163.70 376.30,165.50 377.54,169.20 C378.90,171.20 378.90,172.70 378.90,175.70 L378.90,187.50 C378.90,190.50 374.70,191.50 372.70,191.50 C370.70,191.50 366.50,190.50 366.50,187.50 L366.50,175.70 C366.50,172.70 366.50,171.20 367.86,169.20 C369.10,165.50 370.30,163.70 372.70,163.70 Z" fill="url(#gmouse)"/>
<ellipse cx="372.7" cy="188.0" rx="3.6" ry="3.4" fill="url(#ghind)"/>
<path d="M386.90,163.70 C389.30,163.70 390.50,165.50 391.74,169.20 C393.10,171.20 393.10,172.70 393.10,175.70 L393.10,187.50 C393.10,190.50 388.90,191.50 386.90,191.50 C384.90,191.50 380.70,190.50 380.70,187.50 L380.70,175.70 C380.70,172.70 380.70,171.20 382.06,169.20 C383.30,165.50 384.50,163.70 386.90,163.70 Z" fill="url(#gmouse)"/>
<ellipse cx="386.9" cy="188.0" rx="3.6" ry="3.4" fill="url(#ghind)"/>
<path d="M400.30,163.70 C402.70,163.70 403.90,165.50 405.14,169.20 C406.50,171.20 406.50,172.70 406.50,175.70 L406.50,187.50 C406.50,190.50 402.30,191.50 400.30,191.50 C398.30,191.50 394.10,190.50 394.10,187.50 L394.10,175.70 C394.10,172.70 394.10,171.20 395.46,169.20 C396.70,165.50 397.90,163.70 400.30,163.70 Z" fill="url(#gmouse)"/>
<ellipse cx="400.3" cy="188.0" rx="3.6" ry="3.4" fill="url(#ghind)"/>
</g>
<rect x="344.8" y="158.8" width="1.8" height="6.2" fill="#d8d8d8"/>
<rect x="358.3" y="158.8" width="1.8" height="6.2" fill="#d8d8d8"/>
<rect x="371.8" y="158.8" width="1.8" height="6.2" fill="#d8d8d8"/>
<rect x="385.3" y="158.8" width="1.8" height="6.2" fill="#d8d8d8"/>
<rect x="398.8" y="158.8" width="1.8" height="6.2" fill="#d8d8d8"/>
<rect x="337.2" y="158.70000000000002" width="69.2" height="65.60000000000001" fill="none" stroke="#5e5e5e" stroke-width="0.8"/>
<circle cx="385.2" cy="192.6" r="1.3" fill="#2b9fc4"/>
</g>
<clipPath id="c411"><rect x="411.7" y="158.5" width="100.2" height="66.2"/></clipPath>
<g clip-path="url(#c411)">
<rect x="411.7" y="158.5" width="100.2" height="34.5" fill="url(#stripes)"/>
<rect x="411.7" y="158.5" width="100.2" height="34.5" fill="url(#gup)" opacity="0.35"/>
<rect x="411.7" y="193.0" width="100.2" height="31.700000000000003" fill="url(#glow)"/>
<path d="M420.3,192.2 Q420.8,205.2 421.5,222.0" stroke="#acacac" stroke-width="1.4" fill="none"/>
<path d="M416.0,189.2 L412.5,194.7 M424.6,189.2 L428.1,194.7" stroke="#b4b4b4" stroke-width="1.4"/>
<path d="M415.0,170.5 L413.0,172.5 M425.6,170.5 L427.6,172.5" stroke="#b0b0b0" stroke-width="1.2"/>
<path d="M433.5,192.2 Q434.0,205.2 435.0,222.0" stroke="#acacac" stroke-width="1.4" fill="none"/>
<path d="M429.2,189.2 L425.7,194.7 M437.8,189.2 L441.3,194.7" stroke="#b4b4b4" stroke-width="1.4"/>
<path d="M428.2,170.5 L426.2,172.5 M438.8,170.5 L440.8,172.5" stroke="#b0b0b0" stroke-width="1.2"/>
<path d="M446.9,192.2 Q447.4,205.2 444.5,219.0" stroke="#acacac" stroke-width="1.4" fill="none"/>
<path d="M442.6,189.2 L439.1,194.7 M451.2,189.2 L454.7,194.7" stroke="#b4b4b4" stroke-width="1.4"/>
<path d="M441.6,170.5 L439.6,172.5 M452.2,170.5 L454.2,172.5" stroke="#b0b0b0" stroke-width="1.2"/>
<path d="M459.4,192.2 Q459.9,205.2 461.0,222.0" stroke="#acacac" stroke-width="1.4" fill="none"/>
<path d="M455.1,189.2 L451.6,194.7 M463.7,189.2 L467.2,194.7" stroke="#b4b4b4" stroke-width="1.4"/>
<path d="M454.1,170.5 L452.1,172.5 M464.7,170.5 L466.7,172.5" stroke="#b0b0b0" stroke-width="1.2"/>
<path d="M475.5,192.2 Q476.0,205.2 475.5,220.0" stroke="#acacac" stroke-width="1.4" fill="none"/>
<path d="M471.2,189.2 L467.7,194.7 M479.8,189.2 L483.3,194.7" stroke="#b4b4b4" stroke-width="1.4"/>
<path d="M470.2,170.5 L468.2,172.5 M480.8,170.5 L482.8,172.5" stroke="#b0b0b0" stroke-width="1.2"/>
<path d="M488.9,192.2 Q489.4,205.2 488.5,222.0" stroke="#acacac" stroke-width="1.4" fill="none"/>
<path d="M484.6,189.2 L481.1,194.7 M493.2,189.2 L496.7,194.7" stroke="#b4b4b4" stroke-width="1.4"/>
<path d="M483.6,170.5 L481.6,172.5 M494.2,170.5 L496.2,172.5" stroke="#b0b0b0" stroke-width="1.2"/>
<path d="M502.3,192.2 Q502.8,205.2 502.0,222.0" stroke="#acacac" stroke-width="1.4" fill="none"/>
<path d="M498.0,189.2 L494.5,194.7 M506.6,189.2 L510.1,194.7" stroke="#b4b4b4" stroke-width="1.4"/>
<path d="M497.0,170.5 L495.0,172.5 M507.6,170.5 L509.6,172.5" stroke="#b0b0b0" stroke-width="1.2"/>
<g filter="url(#speck1)">
<path d="M420.30,164.70 C422.70,164.70 423.90,166.50 425.21,170.20 C426.60,172.20 426.60,173.70 426.60,176.70 L426.60,189.20 C426.60,192.20 422.30,193.20 420.30,193.20 C418.30,193.20 414.00,192.20 414.00,189.20 L414.00,176.70 C414.00,173.70 414.00,172.20 415.39,170.20 C416.70,166.50 417.90,164.70 420.30,164.70 Z" fill="url(#gmouse2)"/>
<ellipse cx="420.3" cy="189.7" rx="3.6" ry="3.4" fill="url(#ghind)"/>
<path d="M433.50,164.70 C435.90,164.70 437.10,166.50 438.41,170.20 C439.80,172.20 439.80,173.70 439.80,176.70 L439.80,189.20 C439.80,192.20 435.50,193.20 433.50,193.20 C431.50,193.20 427.20,192.20 427.20,189.20 L427.20,176.70 C427.20,173.70 427.20,172.20 428.59,170.20 C429.90,166.50 431.10,164.70 433.50,164.70 Z" fill="url(#gmouse2)"/>
<ellipse cx="433.5" cy="189.7" rx="3.6" ry="3.4" fill="url(#ghind)"/>
<path d="M446.90,164.70 C449.30,164.70 450.50,166.50 451.81,170.20 C453.20,172.20 453.20,173.70 453.20,176.70 L453.20,189.20 C453.20,192.20 448.90,193.20 446.90,193.20 C444.90,193.20 440.60,192.20 440.60,189.20 L440.60,176.70 C440.60,173.70 440.60,172.20 441.99,170.20 C443.30,166.50 444.50,164.70 446.90,164.70 Z" fill="url(#gmouse2)"/>
<ellipse cx="446.9" cy="189.7" rx="3.6" ry="3.4" fill="url(#ghind)"/>
<path d="M459.40,164.70 C461.80,164.70 463.00,166.50 464.31,170.20 C465.70,172.20 465.70,173.70 465.70,176.70 L465.70,189.20 C465.70,192.20 461.40,193.20 459.40,193.20 C457.40,193.20 453.10,192.20 453.10,189.20 L453.10,176.70 C453.10,173.70 453.10,172.20 454.49,170.20 C455.80,166.50 457.00,164.70 459.40,164.70 Z" fill="url(#gmouse2)"/>
<ellipse cx="459.4" cy="189.7" rx="3.6" ry="3.4" fill="url(#ghind)"/>
<path d="M475.50,164.70 C477.90,164.70 479.10,166.50 480.41,170.20 C481.80,172.20 481.80,173.70 481.80,176.70 L481.80,189.20 C481.80,192.20 477.50,193.20 475.50,193.20 C473.50,193.20 469.20,192.20 469.20,189.20 L469.20,176.70 C469.20,173.70 469.20,172.20 470.59,170.20 C471.90,166.50 473.10,164.70 475.50,164.70 Z" fill="url(#gmouse2)"/>
<ellipse cx="475.5" cy="189.7" rx="3.6" ry="3.4" fill="url(#ghind)"/>
<path d="M488.90,164.70 C491.30,164.70 492.50,166.50 493.81,170.20 C495.20,172.20 495.20,173.70 495.20,176.70 L495.20,189.20 C495.20,192.20 490.90,193.20 488.90,193.20 C486.90,193.20 482.60,192.20 482.60,189.20 L482.60,176.70 C482.60,173.70 482.60,172.20 483.99,170.20 C485.30,166.50 486.50,164.70 488.90,164.70 Z" fill="url(#gmouse2)"/>
<ellipse cx="488.9" cy="189.7" rx="3.6" ry="3.4" fill="url(#ghind)"/>
<path d="M502.30,164.70 C504.70,164.70 505.90,166.50 507.21,170.20 C508.60,172.20 508.60,173.70 508.60,176.70 L508.60,189.20 C508.60,192.20 504.30,193.20 502.30,193.20 C500.30,193.20 496.00,192.20 496.00,189.20 L496.00,176.70 C496.00,173.70 496.00,172.20 497.39,170.20 C498.70,166.50 499.90,164.70 502.30,164.70 Z" fill="url(#gmouse2)"/>
<ellipse cx="502.3" cy="189.7" rx="3.6" ry="3.4" fill="url(#ghind)"/>
</g>
<rect x="419.7" y="159.0" width="1.8" height="6.2" fill="#d8d8d8"/>
<rect x="432.3" y="159.0" width="1.8" height="6.2" fill="#d8d8d8"/>
<rect x="445.3" y="159.0" width="1.8" height="6.2" fill="#d8d8d8"/>
<rect x="457.5" y="159.0" width="1.8" height="6.2" fill="#d8d8d8"/>
<rect x="474.6" y="159.0" width="1.8" height="6.2" fill="#d8d8d8"/>
<rect x="488.0" y="159.0" width="1.8" height="6.2" fill="#d8d8d8"/>
<rect x="501.4" y="159.0" width="1.8" height="6.2" fill="#d8d8d8"/>
<rect x="412.09999999999997" y="158.9" width="99.4" height="65.4" fill="none" stroke="#5e5e5e" stroke-width="0.8"/>
</g>
<text x="108.30" y="237.30" font-size="8" text-anchor="middle" textLength="41.20" lengthAdjust="spacingAndGlyphs" >Un-injected</text>
<text x="108.50" y="247.00" font-size="8" text-anchor="middle" textLength="25.40" lengthAdjust="spacingAndGlyphs" >control</text>
<text x="199.50" y="237.30" font-size="8" text-anchor="middle" textLength="52.70" lengthAdjust="spacingAndGlyphs" >Leukemic Mice</text>
<text x="372.00" y="237.60" font-size="8" text-anchor="middle" textLength="41.20" lengthAdjust="spacingAndGlyphs" >Un-injected</text>
<text x="372.20" y="247.20" font-size="8" text-anchor="middle" textLength="25.40" lengthAdjust="spacingAndGlyphs" >control</text>
<text x="461.70" y="237.60" font-size="8" text-anchor="middle" textLength="17.00" lengthAdjust="spacingAndGlyphs" >MRD</text>
<line x1="72.30" y1="288.80" x2="72.30" y2="355.50" stroke="#1a1a1a" stroke-width="1.1" />
<line x1="72.30" y1="359.00" x2="72.30" y2="416.30" stroke="#1a1a1a" stroke-width="1.1" />
<line x1="70.80" y1="355.50" x2="73.90" y2="355.50" stroke="#1a1a1a" stroke-width="1.1" />
<line x1="69.00" y1="359.00" x2="73.90" y2="359.00" stroke="#1a1a1a" stroke-width="1.1" />
<line x1="69.00" y1="291.60" x2="72.30" y2="291.60" stroke="#1a1a1a" stroke-width="1.1" />
<line x1="69.00" y1="323.60" x2="72.30" y2="323.60" stroke="#1a1a1a" stroke-width="1.1" />
<line x1="69.00" y1="373.10" x2="72.30" y2="373.10" stroke="#1a1a1a" stroke-width="1.1" />
<line x1="69.00" y1="387.50" x2="72.30" y2="387.50" stroke="#1a1a1a" stroke-width="1.1" />
<line x1="69.00" y1="401.80" x2="72.30" y2="401.80" stroke="#1a1a1a" stroke-width="1.1" />
<line x1="69.00" y1="415.80" x2="72.30" y2="415.80" stroke="#1a1a1a" stroke-width="1.1" />
<text x="65.40" y="294.50" font-size="7.5" text-anchor="end" textLength="21.75" lengthAdjust="spacingAndGlyphs" >80000</text>
<text x="65.40" y="326.50" font-size="7.5" text-anchor="end" textLength="21.75" lengthAdjust="spacingAndGlyphs" >40000</text>
<text x="65.40" y="361.90" font-size="7.5" text-anchor="end" textLength="13.05" lengthAdjust="spacingAndGlyphs" >800</text>
<text x="65.40" y="376.00" font-size="7.5" text-anchor="end" textLength="13.05" lengthAdjust="spacingAndGlyphs" >600</text>
<text x="65.40" y="390.40" font-size="7.5" text-anchor="end" textLength="13.05" lengthAdjust="spacingAndGlyphs" >400</text>
<text x="65.40" y="404.70" font-size="7.5" text-anchor="end" textLength="13.05" lengthAdjust="spacingAndGlyphs" >200</text>
<text x="65.40" y="418.70" font-size="7.5" text-anchor="end" textLength="4.35" lengthAdjust="spacingAndGlyphs" >0</text>
<line x1="72.30" y1="415.80" x2="264.20" y2="415.80" stroke="#1a1a1a" stroke-width="1.1" />
<text x="0.00" y="0.00" font-size="9.45" text-anchor="middle" transform="translate(34.7,352.1) rotate(-90)">Total counts (x 10<tspan dy="-3.4" font-size="6.6">3</tspan><tspan dy="3.4">)</tspan></text>
<rect x="90.00" y="410.80" width="24.20" height="5.00" fill="#a3002b" />
<rect x="126.70" y="411.30" width="23.30" height="4.20" fill="#2e4c7e" stroke="#1a376b" stroke-width="1"/>
<rect x="185.80" y="358.80" width="24.20" height="57.00" fill="#a3002b" />
<rect x="185.80" y="354.00" width="24.20" height="1.60" fill="#a3002b" />
<rect x="222.30" y="410.70" width="23.50" height="4.80" fill="#2e4c7e" stroke="#1a376b" stroke-width="1"/>
<line x1="191.50" y1="352.30" x2="204.60" y2="352.30" stroke="#222" stroke-width="0.9" />
<line x1="198.00" y1="352.30" x2="198.00" y2="354.00" stroke="#222" stroke-width="0.9" />
<line x1="96.10" y1="409.90" x2="108.10" y2="409.90" stroke="#222" stroke-width="0.8" />
<line x1="132.30" y1="409.90" x2="144.30" y2="409.90" stroke="#222" stroke-width="0.8" />
<line x1="228.00" y1="409.90" x2="240.00" y2="409.90" stroke="#222" stroke-width="0.8" />
<line x1="73.0" y1="409.6" x2="264.2" y2="409.6" stroke="#111" stroke-width="1.0" stroke-dasharray="2.2 1.4"/>
<line x1="120.20" y1="416.30" x2="120.20" y2="420.30" stroke="#333" stroke-width="0.9" />
<line x1="216.00" y1="416.30" x2="216.00" y2="420.30" stroke="#333" stroke-width="0.9" />
<rect x="202.40" y="295.10" width="14.50" height="7.10" fill="#a3002b" />
<rect x="202.90" y="312.70" width="13.60" height="6.30" fill="#2e4c7e" stroke="#1a376b" stroke-width="1"/>
<text x="222.00" y="302.20" font-size="8" text-anchor="start" textLength="23.50" lengthAdjust="spacingAndGlyphs" >Day 14</text>
<text x="222.00" y="319.30" font-size="8" text-anchor="start" textLength="23.50" lengthAdjust="spacingAndGlyphs" >Day 28</text>
<text x="0.00" y="0.00" font-size="8" text-anchor="end" textLength="41.20" lengthAdjust="spacingAndGlyphs" transform="translate(120.4,427.8) rotate(-45)">Un-injected</text>
<text x="0.00" y="0.00" font-size="8" text-anchor="end" textLength="25.80" lengthAdjust="spacingAndGlyphs" transform="translate(127.8,435.3) rotate(-45)">Control</text>
<text x="0.00" y="0.00" font-size="8" text-anchor="end" textLength="52.70" lengthAdjust="spacingAndGlyphs" transform="translate(198.1,427.5) rotate(-45)">Leukemic Mice</text>
<text x="0.00" y="0.00" font-size="8" text-anchor="end" textLength="17.00" lengthAdjust="spacingAndGlyphs" transform="translate(233.8,427.8) rotate(-45)">MRD</text>
<line x1="333.80" y1="297.40" x2="333.80" y2="332.30" stroke="#1a1a1a" stroke-width="1.3" />
<line x1="330.00" y1="300.40" x2="333.80" y2="300.40" stroke="#1a1a1a" stroke-width="1.0" />
<line x1="330.00" y1="316.10" x2="333.80" y2="316.10" stroke="#1a1a1a" stroke-width="1.0" />
<line x1="331.60" y1="304.30" x2="333.80" y2="304.30" stroke="#1a1a1a" stroke-width="1.0" />
<line x1="331.60" y1="308.20" x2="333.80" y2="308.20" stroke="#1a1a1a" stroke-width="1.0" />
<line x1="331.60" y1="312.20" x2="333.80" y2="312.20" stroke="#1a1a1a" stroke-width="1.0" />
<line x1="331.60" y1="320.10" x2="333.80" y2="320.10" stroke="#1a1a1a" stroke-width="1.0" />
<line x1="331.60" y1="324.10" x2="333.80" y2="324.10" stroke="#1a1a1a" stroke-width="1.0" />
<line x1="331.60" y1="328.10" x2="333.80" y2="328.10" stroke="#1a1a1a" stroke-width="1.0" />
<line x1="333.80" y1="340.60" x2="333.80" y2="373.60" stroke="#1a1a1a" stroke-width="1.3" />
<line x1="330.00" y1="340.60" x2="333.80" y2="340.60" stroke="#1a1a1a" stroke-width="1.0" />
<line x1="330.00" y1="357.30" x2="333.80" y2="357.30" stroke="#1a1a1a" stroke-width="1.0" />
<line x1="330.00" y1="373.60" x2="333.80" y2="373.60" stroke="#1a1a1a" stroke-width="1.0" />
<line x1="331.60" y1="344.90" x2="333.80" y2="344.90" stroke="#1a1a1a" stroke-width="1.0" />
<line x1="331.60" y1="349.00" x2="333.80" y2="349.00" stroke="#1a1a1a" stroke-width="1.0" />
<line x1="331.60" y1="353.10" x2="333.80" y2="353.10" stroke="#1a1a1a" stroke-width="1.0" />
<line x1="331.60" y1="361.50" x2="333.80" y2="361.50" stroke="#1a1a1a" stroke-width="1.0" />
<line x1="331.60" y1="365.60" x2="333.80" y2="365.60" stroke="#1a1a1a" stroke-width="1.0" />
<line x1="331.60" y1="369.60" x2="333.80" y2="369.60" stroke="#1a1a1a" stroke-width="1.0" />
<line x1="333.80" y1="382.90" x2="333.80" y2="416.00" stroke="#1a1a1a" stroke-width="1.3" />
<line x1="330.00" y1="382.90" x2="333.80" y2="382.90" stroke="#1a1a1a" stroke-width="1.0" />
<line x1="330.00" y1="399.50" x2="333.80" y2="399.50" stroke="#1a1a1a" stroke-width="1.0" />
<line x1="330.00" y1="415.90" x2="333.80" y2="415.90" stroke="#1a1a1a" stroke-width="1.0" />
<line x1="331.60" y1="387.00" x2="333.80" y2="387.00" stroke="#1a1a1a" stroke-width="1.0" />
<line x1="331.60" y1="391.20" x2="333.80" y2="391.20" stroke="#1a1a1a" stroke-width="1.0" />
<line x1="331.60" y1="395.30" x2="333.80" y2="395.30" stroke="#1a1a1a" stroke-width="1.0" />
<line x1="331.60" y1="403.60" x2="333.80" y2="403.60" stroke="#1a1a1a" stroke-width="1.0" />
<line x1="331.60" y1="407.70" x2="333.80" y2="407.70" stroke="#1a1a1a" stroke-width="1.0" />
<line x1="331.60" y1="411.80" x2="333.80" y2="411.80" stroke="#1a1a1a" stroke-width="1.0" />
<line x1="330.30" y1="332.30" x2="336.80" y2="332.30" stroke="#1a1a1a" stroke-width="1.0" />
<line x1="330.30" y1="340.60" x2="336.80" y2="340.60" stroke="#1a1a1a" stroke-width="1.0" />
<line x1="330.30" y1="373.60" x2="336.80" y2="373.60" stroke="#1a1a1a" stroke-width="1.0" />
<line x1="330.30" y1="382.90" x2="336.80" y2="382.90" stroke="#1a1a1a" stroke-width="1.0" />
<text x="327.00" y="303.00" font-size="7.2" text-anchor="end" textLength="8.60" lengthAdjust="spacingAndGlyphs" >40</text>
<text x="327.00" y="318.70" font-size="7.2" text-anchor="end" textLength="8.60" lengthAdjust="spacingAndGlyphs" >20</text>
<text x="327.00" y="343.50" font-size="7.2" text-anchor="end" textLength="10.10" lengthAdjust="spacingAndGlyphs" >0.6</text>
<text x="327.00" y="359.90" font-size="7.2" text-anchor="end" textLength="10.10" lengthAdjust="spacingAndGlyphs" >0.4</text>
<text x="327.00" y="376.20" font-size="7.2" text-anchor="end" textLength="10.10" lengthAdjust="spacingAndGlyphs" >0.2</text>
<text x="327.00" y="385.50" font-size="7.2" text-anchor="end" textLength="14.50" lengthAdjust="spacingAndGlyphs" >0.08</text>
<text x="327.00" y="402.10" font-size="7.2" text-anchor="end" textLength="14.50" lengthAdjust="spacingAndGlyphs" >0.04</text>
<text x="327.00" y="418.50" font-size="7.2" text-anchor="end" textLength="14.50" lengthAdjust="spacingAndGlyphs" >0.00</text>
<text x="0.00" y="0.00" font-size="9.0" text-anchor="middle" transform="translate(304.0,356.2) rotate(-90)">Percentage of GFP+ cells</text>
<line x1="333.80" y1="416.00" x2="510.80" y2="416.00" stroke="#1a1a1a" stroke-width="1.3" />
<line x1="363.10" y1="416.30" x2="363.10" y2="420.60" stroke="#222" stroke-width="1.1" />
<line x1="422.20" y1="416.30" x2="422.20" y2="420.60" stroke="#222" stroke-width="1.1" />
<line x1="481.20" y1="416.30" x2="481.20" y2="420.60" stroke="#222" stroke-width="1.1" />
<text x="362.90" y="431.30" font-size="7.5" text-anchor="middle" textLength="20.80" lengthAdjust="spacingAndGlyphs" >Blood</text>
<text x="422.20" y="431.30" font-size="7.5" text-anchor="middle" textLength="23.90" lengthAdjust="spacingAndGlyphs" >Spleen</text>
<text x="481.30" y="431.30" font-size="7.5" text-anchor="middle" textLength="11.10" lengthAdjust="spacingAndGlyphs" >BM</text>
<line x1="343.80" y1="415.50" x2="383.30" y2="415.50" stroke="#111" stroke-width="1.5" />
<circle cx="349.0" cy="415.8" r="2.45" fill="#a3002b"/>
<circle cx="355.5" cy="415.8" r="2.45" fill="#a3002b"/>
<circle cx="359.8" cy="411.8" r="2.45" fill="#a3002b"/>
<circle cx="361.3" cy="414.4" r="2.45" fill="#a3002b"/>
<circle cx="363.2" cy="416.1" r="2.45" fill="#a3002b"/>
<circle cx="366.7" cy="414.5" r="2.45" fill="#a3002b"/>
<circle cx="370.5" cy="415.8" r="2.45" fill="#a3002b"/>
<circle cx="377.5" cy="415.8" r="2.45" fill="#a3002b"/>
<rect x="411.90" y="403.50" width="20.40" height="4.90" fill="#9a9a9a" />
<line x1="402.00" y1="405.70" x2="442.10" y2="405.70" stroke="#111" stroke-width="1.4" />
<line x1="411.90" y1="403.50" x2="432.30" y2="403.50" stroke="#333" stroke-width="1.0" />
<line x1="411.90" y1="408.40" x2="432.30" y2="408.40" stroke="#333" stroke-width="1.0" />
<line x1="422.20" y1="403.50" x2="422.20" y2="408.40" stroke="#333" stroke-width="1.0" />
<path d="M422.20,394.29 L425.00,399.14 L419.40,399.14 Z" fill="#fff" fill-opacity="0.5" stroke="#a3002b" stroke-width="1.15"/>
<path d="M429.20,398.49 L432.00,403.34 L426.40,403.34 Z" fill="#fff" fill-opacity="0.5" stroke="#a3002b" stroke-width="1.15"/>
<path d="M414.80,404.29 L417.60,409.14 L412.00,409.14 Z" fill="#fff" fill-opacity="0.5" stroke="#a3002b" stroke-width="1.15"/>
<path d="M415.30,404.59 L418.10,409.44 L412.50,409.44 Z" fill="#fff" fill-opacity="0.5" stroke="#a3002b" stroke-width="1.15"/>
<path d="M422.20,403.59 L425.00,408.44 L419.40,408.44 Z" fill="#fff" fill-opacity="0.5" stroke="#a3002b" stroke-width="1.15"/>
<path d="M429.20,407.49 L432.00,412.34 L426.40,412.34 Z" fill="#fff" fill-opacity="0.5" stroke="#a3002b" stroke-width="1.15"/>
<path d="M422.20,411.59 L425.00,416.44 L419.40,416.44 Z" fill="#fff" fill-opacity="0.5" stroke="#a3002b" stroke-width="1.15"/>
<line x1="461.10" y1="357.00" x2="501.30" y2="357.00" stroke="#111" stroke-width="1.4" />
<line x1="470.90" y1="353.70" x2="491.50" y2="353.70" stroke="#333" stroke-width="1.0" />
<line x1="470.90" y1="360.40" x2="491.50" y2="360.40" stroke="#333" stroke-width="1.0" />
<line x1="481.00" y1="353.70" x2="481.00" y2="360.40" stroke="#333" stroke-width="1.0" />
<path d="M484.80,342.90 L487.70,345.80 L484.80,348.70 L481.90,345.80 Z" fill="#a3002b"/>
<path d="M477.60,347.10 L480.50,350.00 L477.60,352.90 L474.70,350.00 Z" fill="#a3002b"/>
<path d="M473.80,350.30 L476.70,353.20 L473.80,356.10 L470.90,353.20 Z" fill="#a3002b"/>
<path d="M488.40,350.30 L491.30,353.20 L488.40,356.10 L485.50,353.20 Z" fill="#a3002b"/>
<path d="M481.00,357.10 L483.90,360.00 L481.00,362.90 L478.10,360.00 Z" fill="#a3002b"/>
<path d="M477.60,365.30 L480.50,368.20 L477.60,371.10 L474.70,368.20 Z" fill="#a3002b"/>
<path d="M484.80,364.80 L487.70,367.70 L484.80,370.60 L481.90,367.70 Z" fill="#a3002b"/>
<rect x="0.00" y="0.00" width="520.00" height="1.00" fill="#000" />
<rect x="0.00" y="0.00" width="1.50" height="474.00" fill="#1c1c1c" />
<rect x="518.30" y="0.00" width="1.70" height="474.00" fill="#3a3a3a" />
<rect x="0.00" y="472.20" width="520.00" height="1.80" fill="#1c1c1c" />
</svg></body></html>
